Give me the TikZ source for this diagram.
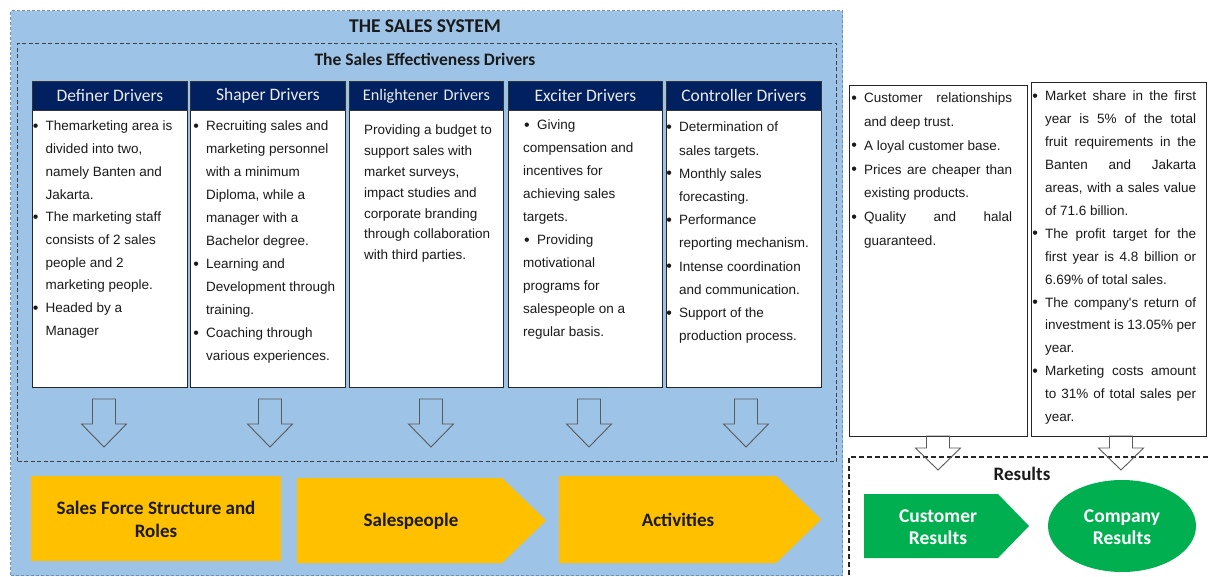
\documentclass[tikz,border=0pt]{standalone}
\usepackage{fontspec}
\setmainfont{Liberation Sans}
\newfontfamily\calfont{Carlito}
\usetikzlibrary{shapes.geometric}
\definecolor{sysblue}{HTML}{9DC3E6}
\definecolor{sysedge}{HTML}{6F8FBA}
\definecolor{navy}{HTML}{002060}
\definecolor{gold}{HTML}{FFC000}
\definecolor{grn}{HTML}{00B050}
\definecolor{arrowgray}{HTML}{5A5A5A}
\definecolor{ink}{HTML}{1A1A1A}
\newcommand\bul{\makebox[12pt][l]{\hspace{-0.8pt}\fontsize{16}{16}\selectfont\raisebox{-0.6pt}{•}}}
\newcommand\ind{\hspace*{12pt}}
\newcommand\bulb{\makebox[14pt][l]{\hspace{1pt}\fontsize{16}{16}\selectfont\raisebox{-0.6pt}{•}}}
\newlength\jw
\newcommand\J[1]{{\spaceskip=0pt\xspaceskip=0pt\makebox[\jw][s]{#1}}}
\newcommand\hollowarrow[5][]{\draw[harrowst,#1] (#2-11.5,#3) -- (#2+11.5,#3) -- (#2+11.5,#4) -- (#2+22.5,#4) -- (#2,#5) -- (#2-22.5,#4) -- (#2-11.5,#4) -- cycle;}
\tikzset{
 sysbox/.style={draw=sysedge, line width=1.3pt, dash pattern=on 3pt off 2pt, fill=sysblue, anchor=north west, inner sep=0pt},
 drvbox/.style={draw=black!75, line width=1pt, dash pattern=on 4pt off 2.5pt, anchor=north west, inner sep=0pt},
 headbox/.style={fill=navy, draw=black!80, line width=0.8pt, minimum height=29pt, anchor=north west, inner sep=0pt, text=white!92!black, font=\calfont\fontsize{17.5}{20}\selectfont},
 colbox/.style={fill=white, draw=black!85, line width=1.3pt, minimum height=277pt, anchor=north west, inner sep=0pt},
 bodytxt/.style={anchor=base west, inner sep=0pt, text width=175pt, align=flush left, text=ink, font=\fontsize{13.5}{22.7}\selectfont},
 resbox/.style={fill=white, draw=black!85, line width=1.3pt, anchor=north west, inner sep=0pt},
 titletxt/.style={text=ink, inner sep=0pt, font=\calfont\bfseries\fontsize{19.5}{22}\selectfont},
 ytxt/.style={text=ink, inner sep=0pt, align=center, font=\calfont\bfseries\fontsize{19}{23}\selectfont},
 gtxt/.style={text=white, inner sep=0pt, align=center, font=\calfont\bfseries\fontsize{19.5}{22}\selectfont},
 harrowst/.style={draw=arrowgray, line width=0.9pt, line join=miter},
 resdash/.style={draw=black!85, line width=1.4pt, dash pattern=on 5pt off 3pt}
}
\begin{document}
\begin{tikzpicture}[x=1pt,y=-1pt]
\useasboundingbox (0,0) rectangle (1208,577);
% the sales system
\node[sysbox, minimum width=832pt, minimum height=565pt] (sys) at (10,10) {};
\node[titletxt] (systitle) at (425,26) {THE SALES SYSTEM};
\node[drvbox, minimum width=819pt, minimum height=418pt] (drv) at (17,43) {};
\node[titletxt, font=\calfont\bfseries\fontsize{17.5}{20}\selectfont] (drvtitle) at (425,59) {The Sales Effectiveness Drivers};
% columns
\node[colbox, minimum width=155pt] (b1) at (32,110) {};
\node[colbox, minimum width=155pt] (b2) at (190,110) {};
\node[colbox, minimum width=154pt] (b3) at (349,110) {};
\node[colbox, minimum width=154pt] (b4) at (508,110) {};
\node[colbox, minimum width=155pt] (b5) at (666,110) {};
\node[headbox, minimum width=155pt] (h1) at (32,81) {Definer Drivers};
\node[headbox, minimum width=155pt] (h2) at (190,81) {Shaper Drivers};
\node[headbox, minimum width=154pt, font=\calfont\fontsize{16.2}{20}\selectfont] (h3) at (349,81) {Enlightener\,\,Drivers};
\node[headbox, minimum width=154pt] (h4) at (508,81) {Exciter Drivers};
\node[headbox, minimum width=155pt] (h5) at (666,81) {Controller Drivers};
% column texts
\node[bodytxt] (t1) at (33.5,131) {\bul Themarketing area is\\ \ind divided into two,\\ \ind namely Banten and\\ \ind Jakarta.\\ \bul The marketing staff\\ \ind consists of 2 sales\\ \ind people and 2\\ \ind marketing people.\\ \bul Headed by a\\ \ind Manager};
\node[bodytxt, font=\fontsize{13.5}{23}\selectfont] (t2) at (194,130.5) {\bul Recruiting sales and\\ \ind marketing personnel\\ \ind with a minimum\\ \ind Diploma, while a\\ \ind manager with a\\ \ind Bachelor degree.\\ \bul Learning and\\ \ind Development through\\ \ind training.\\ \bul Coaching through\\ \ind various experiences.};
\node[bodytxt, font=\fontsize{13.5}{20.8}\selectfont] (t3) at (364,135) {Providing a budget to\\ support sales with\\ market surveys,\\ impact studies and\\ corporate branding\\ through collaboration\\ with third parties.};
\node[bodytxt, font=\fontsize{13.5}{22.9}\selectfont] (t4) at (523,130) {\bulb Giving\\ compensation and\\ incentives for\\ achieving sales\\ targets.\\ \bulb Providing\\ motivational\\ programs for\\ salespeople on a\\ regular basis.};
\node[bodytxt, font=\fontsize{13.5}{23.2}\selectfont] (t5) at (667,132) {\bul Determination of\\ \ind sales targets.\\ \bul Monthly sales\\ \ind forecasting.\\ \bul Performance\\ \ind reporting mechanism.\\ \bul Intense coordination\\ \ind and communication.\\ \bul Support of the\\ \ind production process.};
% hollow arrows (drivers)
\hollowarrow{104}{399}{424}{447}
\hollowarrow{270}{399}{424}{447}
\hollowarrow{431}{399}{424}{447}
\hollowarrow{589}{399}{424}{447}
\hollowarrow{746}{399}{424}{447}
% yellow blocks
\fill[gold] (31,476) -- (281,476) -- (281,561) -- (31,561) -- cycle;
\fill[gold] (297,478) -- (502,478) -- (546,520.5) -- (502,563) -- (297,563) -- cycle;
\fill[gold] (559,476) -- (776,476) -- (821,519.5) -- (776,563) -- (559,563) -- cycle;
\node[ytxt] (sfs) at (156,519) {Sales Force Structure and\\Roles};
\node[ytxt] (sp) at (411,521) {Salespeople};
\node[ytxt] (act) at (678,520) {Activities};
% right result boxes
\node[resbox, minimum width=178pt, minimum height=351pt] (ra) at (849,85) {};
\node[resbox, minimum width=175pt, minimum height=354pt] (rb) at (1031,82) {};
\node[bodytxt, font=\fontsize{13.5}{23.7}\selectfont] (ta) at (852,103) {\setlength\jw{148pt}\bul\J{Customer relationships}\\ \ind and deep trust.\\ \bul A loyal customer base.\\ \bul\J{Prices are cheaper than}\\ \ind existing products.\\ \bul\J{Quality and halal}\\ \ind guaranteed.};
\node[bodytxt, font=\fontsize{13.5}{22.9}\selectfont] (tb) at (1033,101) {\setlength\jw{151pt}\bul\J{Market share in the first}\\ \ind\J{year is 5\% of the total}\\ \ind\J{fruit requirements in the}\\ \ind\J{Banten and Jakarta}\\ \ind\J{areas, with a sales value}\\ \ind of 71.6 billion.\\ \bul\J{The profit target for the}\\ \ind\J{first year is 4.8 billion or}\\ \ind 6.69\% of total sales.\\ \bul\J{The company\textquotesingle s return of}\\ \ind\J{investment is 13.05\% per}\\ \ind year.\\ \bul\J{Marketing costs amount}\\ \ind\J{to 31\% of total sales per}\\ \ind year.};
% results area
\coordinate (resTR) at (1208,457);
\coordinate (resTL) at (849,457);
\coordinate (resBL) at (849,577);
\draw[resdash] (resTR) -- (resTL) -- (resBL);
\hollowarrow{938}{436}{448}{470}
\hollowarrow{1121}{436}{448}{470}
\node[titletxt, font=\calfont\bfseries\fontsize{19}{22}\selectfont] (restitle) at (1022,474) {Results};
\fill[grn] (864,494) -- (998,494) -- (1029,526) -- (998,558) -- (864,558) -- cycle;
\node[gtxt] (cust) at (938,527) {Customer\\Results};
\node[ellipse, fill=grn, minimum width=148pt, minimum height=92pt, inner sep=0pt] (compell) at (1122,526) {};
\node[gtxt] (comp) at (1122,527) {Company\\Results};
\end{tikzpicture}
\end{document}
